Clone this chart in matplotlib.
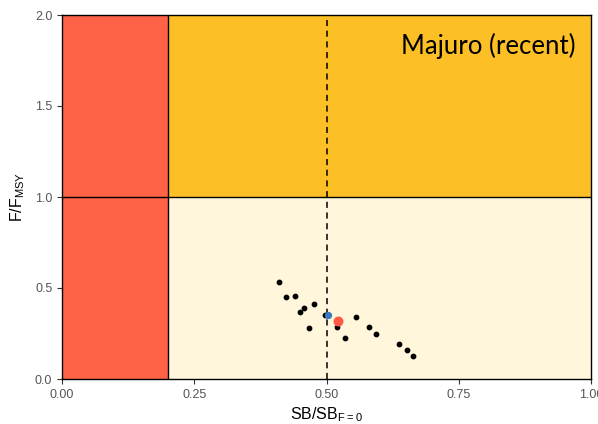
import matplotlib.pyplot as plt
from matplotlib.patches import Rectangle

# stock status trajectory: SB/SB_F=0 vs F/F_MSY
sb_ratio = [0.410, 0.423, 0.440, 0.477, 0.458, 0.450, 0.467, 0.497,
            0.520, 0.535, 0.556, 0.580, 0.594, 0.637, 0.653, 0.663]
f_ratio = [0.533, 0.449, 0.458, 0.412, 0.390, 0.366, 0.278, 0.350,
           0.287, 0.225, 0.339, 0.287, 0.247, 0.192, 0.159, 0.125]
latest = (0.522, 0.319)
median = (0.503, 0.350)

lrp = 0.2
x_ticks = [0.0, 0.25, 0.5, 0.75, 1.0]
x_labels = ["0.00", "0.25", "0.50", "0.75", "1.00"]
y_ticks = [0.0, 0.5, 1.0, 1.5, 2.0]

plt.rcParams['font.family'] = ['Liberation Sans', 'DejaVu Sans']

fig = plt.figure(figsize=(5.98, 4.24), dpi=100)
ax = fig.add_axes([62 / 598, 45 / 424, 529 / 598, 364 / 424])

ax.add_patch(Rectangle((0, 0), lrp, 2, facecolor="#FF6347", edgecolor="none", zorder=0))
ax.add_patch(Rectangle((lrp, 1), 1 - lrp, 1, facecolor="#FDBF26", edgecolor="none", zorder=0))
ax.add_patch(Rectangle((lrp, 0), 1 - lrp, 1, facecolor="#FFF6DC", edgecolor="none", zorder=0))

ax.axvline(lrp, color="black", lw=1, zorder=1)
ax.axhline(1.0, color="black", lw=1, zorder=1)
ax.axvline(0.5, color="black", lw=1.1, ls=(0, (4, 3)), zorder=1)

ax.scatter(sb_ratio, f_ratio, s=10, color="black", zorder=3)
ax.scatter([median[0]], [median[1]], s=18, color="#3B78C2", zorder=4)
ax.scatter([latest[0]], [latest[1]], s=38, color="#FF5A45", zorder=4)

ax.text(0.97, 1.83, "Majuro (recent)", ha="right", va="center", fontsize=18.5,
        family=["Lato", "DejaVu Sans"], color="black")

ax.set_xlim(0, 1)
ax.set_ylim(0, 2)
ax.set_xticks(x_ticks)
ax.set_xticklabels(x_labels)
ax.set_yticks(y_ticks)
ax.set_yticklabels([f"{v:.1f}" for v in y_ticks])
ax.tick_params(colors="#333333", labelcolor="#555555", labelsize=9, length=3.5, width=0.8)
for sp in ax.spines.values():
    sp.set_color("black")
    sp.set_linewidth(1)

ax.set_xlabel(r"SB/SB$_{\mathregular{F=0}}$", fontsize=11.5, labelpad=3)
ax.set_ylabel(r"F/F$_{\mathregular{MSY}}$", fontsize=11.5, labelpad=6)

fig.savefig("out.png", dpi=100)
